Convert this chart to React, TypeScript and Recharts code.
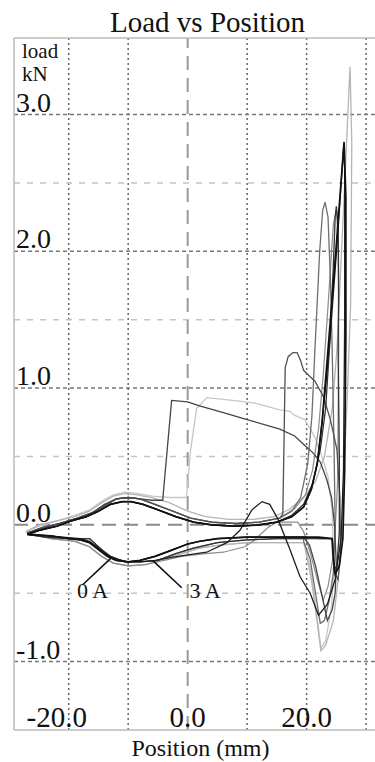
import { LineChart, Line, XAxis, YAxis, ReferenceLine, ReferenceDot } from "recharts";

type Pt = [number, number];

const title = "Load vs Position";
const xLabel = "Position (mm)";
const yLabel = ["load", "kN"];

const xTicks = [-20, 0, 20];
const yTicks = [-1, 0, 1, 2, 3];
const xGridLines = [-20, -10, 10, 20, 30];
const yGridMajor = [-1, 1, 2, 3];
const yGridMinor = [-0.5, 0.5, 1.5, 2.5];
const xDomain: [number, number] = [-29.2, 31.5];
const yDomain: [number, number] = [-1.5, 3.56];

// shared branches of the loops
const upperLeftBlack: Pt[] = [[-27, -0.07], [-25, -0.04], [-22, -0.01], [-19.5, 0.03], [-17, 0.06], [-15, 0.1], [-13, 0.15], [-11, 0.17], [-9.5, 0.17], [-7.5, 0.15], [-5, 0.11], [-2, 0.06], [1, 0.02], [4, 0.0], [8, -0.01], [12, 0.0], [15, 0.02]];
const riseBlack: Pt[] = [[17.5, 0.06], [19.5, 0.13], [20.8, 0.26], [21.8, 0.45], [22.6, 0.75]];
const upperLeftLight: Pt[] = [[-27.2, -0.05], [-25, 0.0], [-22, 0.03], [-19, 0.06], [-16.5, 0.1], [-14.5, 0.16], [-12.5, 0.21], [-10.5, 0.23], [-8.5, 0.22], [-6, 0.2], [-3, 0.16], [0, 0.1], [3, 0.06], [7, 0.04], [11, 0.04], [14.5, 0.06]];
const upperLeftGrey: Pt[] = [[-27, -0.06], [-24.5, -0.02], [-21.5, 0.01], [-18.5, 0.05], [-16, 0.09], [-14, 0.14], [-12, 0.19], [-10, 0.2], [-8, 0.19], [-5.5, 0.15], [-2.5, 0.1], [0.5, 0.05], [4, 0.02], [8, 0.01], [12, 0.02], [15.5, 0.05]];
const riseGrey: Pt[] = [[18, 0.12], [19.8, 0.22], [21, 0.4], [22, 0.7]];

const lowerBlack: Pt[] = [[19.5, -0.09], [15, -0.09], [10, -0.09], [5, -0.1], [2, -0.12], [0, -0.14], [-3, -0.19], [-5.5, -0.23], [-8, -0.26], [-10, -0.27], [-12, -0.26], [-13.5, -0.23], [-15, -0.18], [-16.5, -0.13], [-18, -0.11], [-20, -0.1], [-23, -0.08], [-27, -0.07]];
const lowerKink: Pt[] = [[19.5, -0.1], [15, -0.1], [10, -0.11], [5, -0.13], [1, -0.17], [-2, -0.21], [-5, -0.26], [-8, -0.27], [-10.5, -0.27], [-13, -0.23], [-14.5, -0.18], [-16.5, -0.1], [-20, -0.1], [-24, -0.09], [-27, -0.07]];
const lowerLight: Pt[] = [[19.5, -0.13], [15, -0.13], [10, -0.13], [5, -0.15], [2, -0.17], [-1, -0.21], [-4, -0.25], [-7, -0.29], [-10, -0.3], [-12.5, -0.28], [-14.5, -0.23], [-16.5, -0.16], [-19, -0.12], [-23, -0.1], [-27.2, -0.05]];

// individual cycles
const loopA: Pt[] = [...upperLeftBlack, ...riseBlack, [23.6, 1.28], [25, 2.05], [26.3, 2.8], [26.6, 2.4], [26.6, 1.4], [26.4, 0.4], [26.1, -0.1], [25.5, -0.3], [24.8, -0.36], [24.4, -0.2], [24.3, -0.1], [22, -0.09], ...lowerBlack];
const loopB: Pt[] = [...upperLeftLight, [17, 0.11], [19.5, 0.2], [21.5, 0.32], [23, 0.5], [24.3, 0.85], [25.1, 1.28], [26.2, 2.3], [27.3, 3.35], [27.6, 2.8], [27.4, 1.6], [26.8, 0.9], [26.2, 0.3], [25.9, -0.1], [25.3, -0.4], [24.5, -0.7], [23.2, -0.88], [22.4, -0.92], [21.8, -0.72], [20.8, -0.4], [19.8, -0.18], ...lowerLight];
const loopC: Pt[] = [...upperLeftGrey, [17.5, 0.1], [19, 0.2], [20.2, 0.45], [20.9, 0.8], [21.4, 1.28], [22.2, 2.0], [22.7, 2.3], [23.1, 2.36], [23.6, 2.25], [24.0, 1.8], [24.3, 1.28], [24.6, 0.6], [24.8, 0.0], [24.5, -0.35], [23.8, -0.55], [23, -0.7], [22.3, -0.72], [21.5, -0.5], [20.6, -0.25], [19.5, -0.12], ...lowerKink];
const loopD: Pt[] = [...upperLeftBlack, [17.5, 0.07], [19.5, 0.15], [21, 0.3], [22.3, 0.55], [23.2, 0.85], [24.0, 1.4], [24.5, 1.9], [24.8, 2.25], [25.0, 2.33], [25.3, 2.2], [25.4, 1.7], [25.3, 1.28], [25.5, 0.5], [25.5, -0.05], [25.1, -0.3], [24.6, -0.33], [24.35, -0.15], [24.3, -0.1], [22, -0.1], ...lowerKink];
const loopE: Pt[] = [[-27, -0.06], [-24.5, -0.03], [-21.5, 0.01], [-18.5, 0.05], [-16, 0.09], [-14, 0.15], [-12, 0.19], [-10, 0.2], [-8, 0.19], [-6, 0.18], [-4.2, 0.18], [-2.7, 0.91], [0, 0.9], [2, 0.87], [6, 0.82], [10, 0.77], [15.5, 0.7], [18, 0.65], [19.7, 0.58], [21, 0.53], [22.3, 0.46], [23.4, 0.33], [24.2, 0.2], [24.7, 0.0], [25, -0.3], [24.8, -0.5], [24.3, -0.62], [23.5, -0.7], [22.5, -0.5], [21.5, -0.3], [20.5, -0.15], ...lowerBlack];
const loopF: Pt[] = [[-27.2, -0.05], [-25, -0.01], [-22, 0.03], [-19, 0.07], [-16.5, 0.11], [-14.5, 0.17], [-12.5, 0.22], [-10.5, 0.24], [-8.5, 0.23], [-6, 0.21], [-3, 0.2], [-0.2, 0.2], [0.5, 0.55], [1.5, 0.85], [3.2, 0.93], [7.6, 0.91], [11.3, 0.89], [15.5, 0.84], [17.2, 0.83], [18, 0.8], [19.7, 0.77], [21.4, 0.64], [22.6, 0.5], [23.6, 0.35], [24.3, 0.1], [24.6, -0.3], [24.2, -0.6], [23.2, -0.85], [22.4, -0.9], [21.7, -0.65], [20.8, -0.35], [19.8, -0.16], ...lowerLight];
const loopG: Pt[] = [...upperLeftGrey, [16.0, 0.08], [16.2, 0.6], [16.4, 1.15], [16.9, 1.23], [17.7, 1.26], [18.4, 1.26], [19.0, 1.2], [19.5, 1.13], [20.2, 1.1], [21.4, 1.05], [22.8, 0.94], [24.0, 0.77], [25.1, 0.55], [25.6, 0.2], [25.7, -0.2], [25.3, -0.4], [24.7, -0.35], [24.4, -0.15], [24.3, -0.1], [22, -0.1], ...lowerBlack];
const loopH: Pt[] = [...upperLeftBlack, ...riseBlack, [23.4, 1.1], [24.0, 1.4], [25.2, 2.1], [26.2, 2.75], [26.4, 2.6], [26.4, 1.5], [26.2, 0.4], [25.8, -0.1], [24.8, -0.4], [23.5, -0.58], [22, -0.66], [20.6, -0.5], [18.9, -0.38], [17.2, -0.18], [15.2, 0.04], [13.8, 0.15], [12.5, 0.17], [10.8, 0.11], [8.8, -0.04], [6.6, -0.13], [3.2, -0.2], [0, -0.22], [-3, -0.24], [-5.5, -0.26], [-8, -0.27], [-10, -0.27], [-12, -0.25], [-13.5, -0.22], [-15, -0.17], [-16.5, -0.12], [-18, -0.1], [-21, -0.09], [-24, -0.08], [-27, -0.07]];
const loopI: Pt[] = [...upperLeftGrey, ...riseGrey, [22.8, 1.1], [23.6, 1.6], [24.5, 2.2], [25.0, 2.3], [25.3, 2.1], [25.4, 1.3], [25.2, 0.3], [24.6, -0.2], [23.6, -0.45], [22.8, -0.55], [21.8, -0.4], [20.6, -0.2], [19.5, -0.05], [18.5, 0.02], [15, 0.02], [13.5, -0.02], [11, -0.12], [9.6, -0.16], [6, -0.2], [3, -0.21], [-1, -0.23], [-4, -0.26], [-7, -0.29], [-10, -0.3], [-12.5, -0.28], [-14.5, -0.23], [-16.5, -0.16], [-19, -0.12], [-23, -0.1], [-27, -0.06]];

const annotations = [
  { text: "0 A", from: [-12.8, -0.24], to: [-17.7, -0.44], at: [-18.6, -0.535] },
  { text: "3 A", from: [-5.9, -0.26], to: [-1.0, -0.46], at: [0.3, -0.535] },
];

const series = [
  { name: "F", points: loopF, stroke: "#c6c6c6", width: 1.3 },
  { name: "B", points: loopB, stroke: "#b4b4b4", width: 1.3 },
  { name: "I", points: loopI, stroke: "#8c8c8c", width: 1.2 },
  { name: "C", points: loopC, stroke: "#6e6e6e", width: 1.3 },
  { name: "G", points: loopG, stroke: "#505050", width: 1.3 },
  { name: "E", points: loopE, stroke: "#454545", width: 1.3 },
  { name: "D", points: loopD, stroke: "#333333", width: 1.3 },
  { name: "H", points: loopH, stroke: "#1e1e1e", width: 1.3 },
  { name: "A", points: loopA, stroke: "#111111", width: 1.7 },
];

const serif = "Liberation Serif";
const toRows = (pts: Pt[]) => pts.map(([x, y]) => ({ x, y }));

function YTick(props: any) {
  const { x, y, payload } = props;
  return (
    <text x={x + 2} y={y - 3} fontFamily={serif} fontSize={28} fill="#111" textAnchor="start">
      {Number(payload.value).toFixed(1)}
    </text>
  );
}

function XTick(props: any) {
  const { x, y, payload } = props;
  const v = Number(payload.value);
  return (
    <text x={x + (v < 0 ? -12 : 0)} y={y - 3} fontFamily={serif} fontSize={29} fill="#111" textAnchor="middle">
      {v.toFixed(1)}
    </text>
  );
}

function YUnit(props: any) {
  const vb = props.viewBox || { x: 14, y: 38, width: 1 };
  const left = vb.x + vb.width;
  return (
    <g fontFamily={serif} fontSize={21} fill="#111">
      <text x={left + 7} y={vb.y + 20}>{yLabel[0]}</text>
      <text x={left + 7} y={vb.y + 43}>{yLabel[1]}</text>
    </g>
  );
}

function XTitle(props: any) {
  const vb = props.viewBox || { x: 15, y: 730, width: 360 };
  return (
    <text x={vb.x + vb.width / 2 + 6} y={vb.y + 26} fontFamily={serif} fontSize={24} fill="#111" textAnchor="middle">
      {xLabel}
    </text>
  );
}

function NoteLabel(text: string) {
  return (props: any) => {
    const vb = props.viewBox || { x: 0, y: 0 };
    return (
      <text x={vb.x} y={vb.y} fontFamily={serif} fontSize={22} fill="#111" textAnchor="start">
        {text}
      </text>
    );
  };
}

export default function App() {
  return (
    <div style={{ position: "absolute", left: 0, top: 0, width: 375, height: 762, background: "#fff" }}>
      <div
        style={{
          position: "absolute",
          left: 0,
          top: 8,
          width: 415,
          textAlign: "center",
          fontFamily: serif,
          fontSize: 29,
          lineHeight: "29px",
          color: "#111",
        }}
      >
        {title}
      </div>
      <LineChart width={375} height={762} margin={{ top: 38, right: 0, left: 14, bottom: 31 }}>
        {xGridLines.map((v) => (
          <ReferenceLine key={"gx" + v} x={v} stroke="#666" strokeWidth={1.5} strokeDasharray="2 3" zIndex={-50} />
        ))}
        {yGridMinor.map((v) => (
          <ReferenceLine key={"gm" + v} y={v} stroke="#c4c4c4" strokeWidth={1.5} strokeDasharray="6 7" zIndex={-50} />
        ))}
        {yGridMajor.map((v) => (
          <ReferenceLine key={"gy" + v} y={v} stroke="#777" strokeWidth={1.5} strokeDasharray="4 3" zIndex={-50} />
        ))}
        <ReferenceLine x={0} stroke="#999" strokeWidth={2} strokeDasharray="14 8" zIndex={-50} />
        <ReferenceLine y={0} stroke="#8a8a8a" strokeWidth={2} strokeDasharray="14 8" zIndex={-50} />
        <ReferenceLine y={yDomain[1]} stroke="#bbb" strokeWidth={1.5} zIndex={-50} />
        <XAxis
          type="number"
          dataKey="x"
          domain={xDomain}
          allowDataOverflow
          ticks={xTicks}
          height={1}
          tickSize={0}
          tickMargin={0}
          tickLine={false}
          axisLine={{ stroke: "#bbb", strokeWidth: 1.5 }}
          tick={<XTick />}
          label={<XTitle />}
        />
        <YAxis
          type="number"
          dataKey="y"
          domain={yDomain}
          allowDataOverflow
          ticks={yTicks}
          width={1}
          mirror
          tickSize={0}
          tickMargin={0}
          tickLine={false}
          axisLine={{ stroke: "#bbb", strokeWidth: 1.5 }}
          tick={<YTick />}
          label={<YUnit />}
        />
        {series.map((s) => (
          <Line
            key={s.name}
            data={toRows(s.points)}
            dataKey="y"
            type="linear"
            stroke={s.stroke}
            strokeWidth={s.width}
            dot={false}
            activeDot={false}
            isAnimationActive={false}
          />
        ))}
        {annotations.map((a) => (
          <ReferenceLine
            key={"al" + a.text}
            segment={[
              { x: a.from[0], y: a.from[1] },
              { x: a.to[0], y: a.to[1] },
            ]}
            stroke="#111"
            strokeWidth={1.6}
          />
        ))}
        {annotations.map((a) => (
          <ReferenceDot key={"at" + a.text} x={a.at[0]} y={a.at[1]} r={0} stroke="none" label={NoteLabel(a.text)} />
        ))}
      </LineChart>
    </div>
  );
}
